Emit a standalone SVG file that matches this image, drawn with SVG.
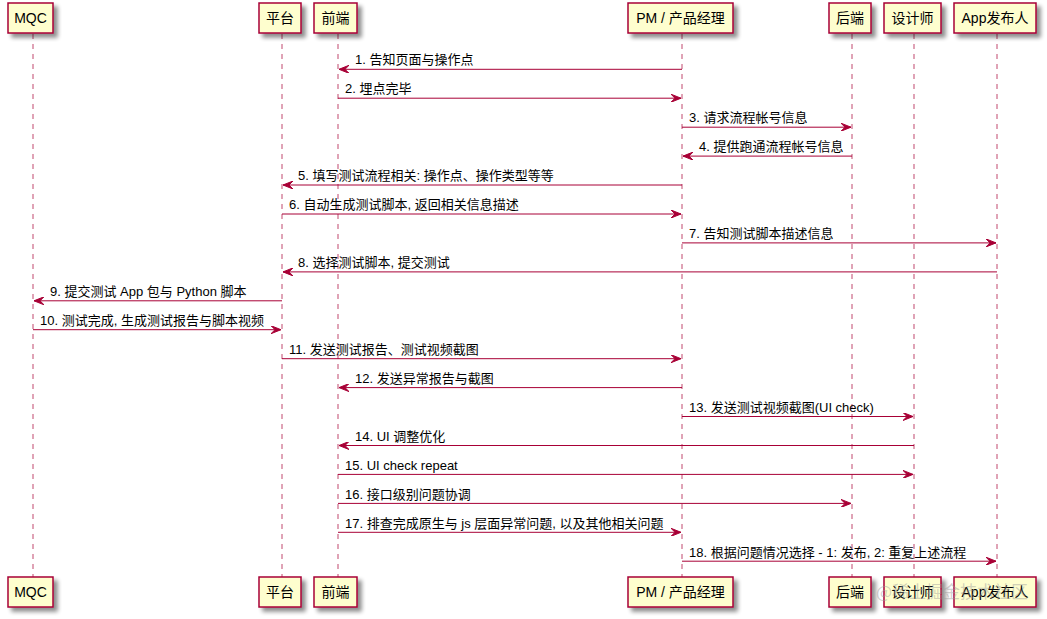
<svg xmlns="http://www.w3.org/2000/svg" width="1047" height="619" viewBox="0 0 1047 619">
<defs>
<filter id="sh" x="-20%" y="-20%" width="150%" height="160%">
<feGaussianBlur in="SourceAlpha" stdDeviation="2"/>
<feOffset dx="4" dy="4" result="b"/>
<feComponentTransfer><feFuncA type="linear" slope="0.45"/></feComponentTransfer>
<feMerge><feMergeNode/><feMergeNode in="SourceGraphic"/></feMerge>
</filter>
<marker id="ah" viewBox="0 0 10 8" refX="10" refY="4" markerWidth="10" markerHeight="8" markerUnits="userSpaceOnUse" orient="auto">
<polygon points="0,0 10,4 0,8 4,4" fill="#A80036" stroke="#A80036" stroke-width="1"/>
</marker>
</defs>
<style>
text{font-family:"Liberation Sans",Arial,"Noto Sans CJK SC",sans-serif;fill:#000}
.p rect{fill:#FEFECE;stroke:#A80036;stroke-width:1.5}
.p text{font-size:14px;text-anchor:middle}
.ll{stroke:#A80036;stroke-width:1.2;stroke-dasharray:5,5;stroke-opacity:0.6}
.m line{stroke:#A80036;stroke-width:1;marker-end:url(#ah)}
.m text{font-size:13px}
.wm{font-size:17px;fill:#9a9a9a;fill-opacity:0.45;font-family:"Noto Sans CJK SC",sans-serif}
</style>
<rect width="1047" height="619" fill="#FFFFFF"/>
<g id="lifelines">
<line class="ll" x1="33" y1="34" x2="33" y2="577"/>
<line class="ll" x1="282" y1="34" x2="282" y2="577"/>
<line class="ll" x1="338" y1="34" x2="338" y2="577"/>
<line class="ll" x1="682" y1="34" x2="682" y2="577"/>
<line class="ll" x1="852" y1="34" x2="852" y2="577"/>
<line class="ll" x1="914" y1="34" x2="914" y2="577"/>
<line class="ll" x1="997" y1="34" x2="997" y2="577"/>
</g>
<g id="p-mqc" class="p"><rect x="8" y="3" width="45" height="30" filter="url(#sh)"/><text x="30.5" y="23">MQC</text><rect x="8" y="577" width="45" height="30" filter="url(#sh)"/><text x="30.5" y="597">MQC</text></g>
<g id="p-platform" class="p"><rect x="259" y="3" width="42" height="30" filter="url(#sh)"/><text x="280" y="23">平台</text><rect x="259" y="577" width="42" height="30" filter="url(#sh)"/><text x="280" y="597">平台</text></g>
<g id="p-frontend" class="p"><rect x="314" y="3" width="43" height="30" filter="url(#sh)"/><text x="335.5" y="23">前端</text><rect x="314" y="577" width="43" height="30" filter="url(#sh)"/><text x="335.5" y="597">前端</text></g>
<g id="p-pm" class="p"><rect x="628" y="3" width="105" height="30" filter="url(#sh)"/><text x="680.5" y="23">PM / 产品经理</text><rect x="628" y="577" width="105" height="30" filter="url(#sh)"/><text x="680.5" y="597">PM / 产品经理</text></g>
<g id="p-backend" class="p"><rect x="829" y="3" width="42" height="30" filter="url(#sh)"/><text x="850" y="23">后端</text><rect x="829" y="577" width="42" height="30" filter="url(#sh)"/><text x="850" y="597">后端</text></g>
<g id="p-designer" class="p"><rect x="884" y="3" width="57" height="30" filter="url(#sh)"/><text x="912.5" y="23">设计师</text><rect x="884" y="577" width="57" height="30" filter="url(#sh)"/><text x="912.5" y="597">设计师</text></g>
<g id="p-app" class="p"><rect x="954" y="3" width="82" height="30" filter="url(#sh)"/><text x="995" y="23">App发布人</text><rect x="954" y="577" width="82" height="30" filter="url(#sh)"/><text x="995" y="597">App发布人</text></g>
<g id="connectors" class="m">
<line x1="682" y1="69.3" x2="339" y2="69.3"/><text x="355" y="64">1. 告知页面与操作点</text>
<line x1="338" y1="98.2" x2="681" y2="98.2"/><text x="345" y="93">2. 埋点完毕</text>
<line x1="682" y1="127.2" x2="851" y2="127.2"/><text x="689" y="122">3. 请求流程帐号信息</text>
<line x1="852" y1="156.1" x2="683" y2="156.1"/><text x="699" y="151">4. 提供跑通流程帐号信息</text>
<line x1="682" y1="185" x2="283" y2="185"/><text x="298" y="180">5. 填写测试流程相关: 操作点、操作类型等等</text>
<line x1="282" y1="214" x2="681" y2="214"/><text x="289" y="209">6. 自动生成测试脚本, 返回相关信息描述</text>
<line x1="682" y1="242.9" x2="996" y2="242.9"/><text x="689" y="238">7. 告知测试脚本描述信息</text>
<line x1="997" y1="271.9" x2="283" y2="271.9"/><text x="298" y="267">8. 选择测试脚本, 提交测试</text>
<line x1="282" y1="300.8" x2="34" y2="300.8"/><text x="50" y="296">9. 提交测试 App 包与 Python 脚本</text>
<line x1="33" y1="329.7" x2="281" y2="329.7"/><text x="40" y="325">10. 测试完成, 生成测试报告与脚本视频</text>
<line x1="282" y1="358.7" x2="681" y2="358.7"/><text x="289" y="354">11. 发送测试报告、测试视频截图</text>
<line x1="682" y1="387.6" x2="339" y2="387.6"/><text x="355" y="383">12. 发送异常报告与截图</text>
<line x1="682" y1="416.5" x2="913" y2="416.5"/><text x="689" y="412">13. 发送测试视频截图(UI check)</text>
<line x1="914" y1="445.5" x2="339" y2="445.5"/><text x="355" y="441">14. UI 调整优化</text>
<line x1="338" y1="474.4" x2="913" y2="474.4"/><text x="345" y="470">15. UI check repeat</text>
<line x1="338" y1="503.4" x2="851" y2="503.4"/><text x="345" y="499">16. 接口级别问题协调</text>
<line x1="338" y1="532.3" x2="681" y2="532.3"/><text x="345" y="528">17. 排查完成原生与 js 层面异常问题, 以及其他相关问题</text>
<line x1="682" y1="561.2" x2="996" y2="561.2"/><text x="689" y="557">18. 根据问题情况选择 - 1: 发布, 2: 重复上述流程</text>
</g>
<text class="wm" x="876" y="598">@稀土掘金技术社区</text>
</svg>
